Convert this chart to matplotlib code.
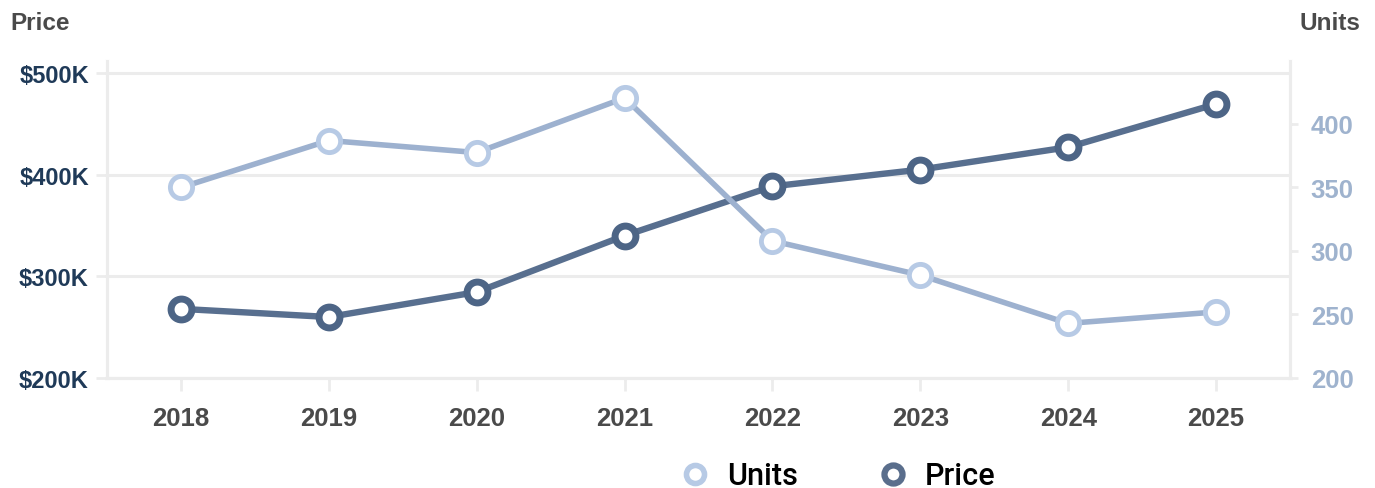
import matplotlib
matplotlib.use("Agg")
import matplotlib.pyplot as plt
from matplotlib.lines import Line2D
from matplotlib.ticker import FuncFormatter, FixedLocator

years = ["2018", "2019", "2020", "2021", "2022", "2023", "2024", "2025"]
price_k = [268, 260, 284.5, 340, 388.5, 405, 427, 469.5]
units = [350, 387, 377.5, 420.5, 308, 281, 243, 252]

price_ticks = [200, 300, 400, 500]
units_ticks = [200, 250, 300, 350, 400]

PRICE_LINE = "#586f8f"
PRICE_EDGE = "#4d6586"
UNITS_LINE = "#9db1cf"
UNITS_EDGE = "#b7cae5"
GRID = "#ececec"
LEFT_LABEL = "#1f3a58"
RIGHT_LABEL = "#9fb3ce"

tick_font = "Liberation Sans"

fig = plt.figure(figsize=(13.75, 4.89), dpi=100)
ax = fig.add_axes([107 / 1375, 1 - 379 / 489, (1290 - 107) / 1375, (379 - 62) / 489])
ax2 = ax.twinx()

x = list(range(len(years)))

ax.plot(x, price_k, color=PRICE_LINE, lw=4.6, marker="o", ms=15,
        mfc="white", mec=PRICE_EDGE, mew=5, solid_capstyle="round", zorder=3)
ax2.plot(x, units, color=UNITS_LINE, lw=4.0, marker="o", ms=16,
         mfc="white", mec=UNITS_EDGE, mew=3.5, solid_capstyle="round", zorder=3)

ax.set_xlim(-0.5, len(years) - 0.5)
ax.set_ylim(200, 511.8)
ax2.set_ylim(200, 449.6)

ax.set_xticks(x)
ax.set_xticklabels(years)
ax.yaxis.set_major_locator(FixedLocator(price_ticks))
ax.yaxis.set_major_formatter(FuncFormatter(lambda v, p: f"${int(v)}K"))
ax2.yaxis.set_major_locator(FixedLocator(units_ticks))

ax.grid(axis="y", color=GRID, lw=2.2)
ax.set_axisbelow(True)

for a in (ax, ax2):
    a.spines["top"].set_visible(False)
    for s in ("left", "right", "bottom"):
        a.spines[s].set_color(GRID)
        a.spines[s].set_linewidth(2.2)

ax.tick_params(axis="x", length=9, width=2, color=GRID, pad=11,
               labelsize=18.5, labelcolor="#4a4a4a")
ax.tick_params(axis="y", length=8, width=2, color=GRID, pad=5,
               labelsize=17, labelcolor=LEFT_LABEL)
ax2.tick_params(axis="y", length=6, width=2, color=GRID, pad=9,
                labelsize=18.5, labelcolor=RIGHT_LABEL)

for lbl in ax.get_xticklabels() + ax.get_yticklabels() + ax2.get_yticklabels():
    lbl.set_fontfamily(tick_font)
    lbl.set_fontweight("bold")

fig.text(10 / 1375, 1 - 23 / 489, "Price", ha="left", va="center",
         fontsize=17.5, fontweight="bold", color="#4a4a4a", family=tick_font)
fig.text(1360 / 1375, 1 - 23 / 489, "Units", ha="right", va="center",
         fontsize=17.5, fontweight="bold", color="#4a4a4a", family=tick_font)

handles = [
    Line2D([], [], ls="none", marker="o", ms=13, mfc="white", mec=UNITS_EDGE, mew=4),
    Line2D([], [], ls="none", marker="o", ms=13, mfc="white", mec="#5a6e8c", mew=4.5),
]
fig.legend(handles, ["Units", "Price"], loc="center", ncol=2,
           bbox_to_anchor=(838 / 1375, 1 - 477 / 489), frameon=False,
           prop={"family": "Roboto", "size": 22, "weight": "medium"},
           handletextpad=0.55, columnspacing=2.6, handlelength=1.0)

fig.savefig("out.png", dpi=100, facecolor="white")
